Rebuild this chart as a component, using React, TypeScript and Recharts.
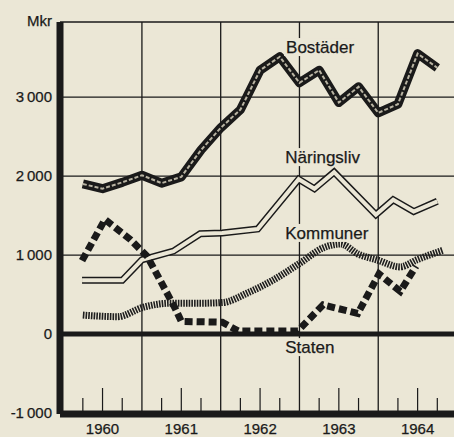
import React from 'react';
import { LineChart, Line, XAxis, YAxis, ReferenceLine, ReferenceDot } from 'recharts';

const BG = '#ebe7d6';
const INK = '#1a1a1a';
const FONT = '"Liberation Sans", Arial, Helvetica, sans-serif';

// Bostäder (housing), Mkr, quarterly
const bostaderX = [1960.25, 1960.5, 1960.75, 1961.0, 1961.25, 1961.5, 1961.75, 1962.0, 1962.25, 1962.5, 1962.75, 1963.0, 1963.25, 1963.5, 1963.75, 1964.0, 1964.25, 1964.5, 1964.75];
const bostaderY = [1900, 1840, 1920, 2010, 1910, 1990, 2330, 2610, 2840, 3340, 3510, 3180, 3340, 2930, 3130, 2800, 2910, 3550, 3370];

// Näringsliv (business)
const naringslivX = [1960.24, 1960.75, 1961.0, 1961.4, 1961.74, 1962.02, 1962.47, 1962.99, 1963.19, 1963.44, 1963.97, 1964.19, 1964.45, 1964.75];
const naringslivY = [680, 680, 940, 1050, 1270, 1280, 1330, 1960, 1840, 2050, 1510, 1700, 1550, 1680];

// Kommuner (municipalities)
const kommunerX = [1960.25, 1960.69, 1961.02, 1961.36, 1961.74, 1962.03, 1962.34, 1962.66, 1963.01, 1963.3, 1963.52, 1963.75, 1963.98, 1964.28, 1964.49, 1964.82];
const kommunerY = [240, 220, 340, 390, 390, 400, 520, 680, 900, 1090, 1140, 1010, 940, 850, 940, 1060];

// Staten (state)
const statenX = [1960.24, 1960.53, 1960.85, 1961.07, 1961.42, 1961.5, 1962.02, 1962.22, 1962.98, 1963.3, 1963.74, 1964.01, 1964.28, 1964.48];
const statenY = [930, 1450, 1200, 980, 330, 160, 150, 40, 40, 370, 260, 760, 540, 860];

const yTicks = [-1000, 0, 1000, 2000, 3000];
const yTickLabels = ['-1\u2009000', '0', '1\u2009000', '2\u2009000', '3\u2009000'];
const xTicks = [1960.25, 1960.5, 1960.75, 1961.25, 1961.5, 1961.75, 1962.25, 1962.5, 1962.75, 1963.25, 1963.5, 1963.75, 1964.25, 1964.5, 1964.75];
const gridYears = [1961, 1962, 1963, 1964];
const gridValues = [1000, 2000, 3000];
const X_MIN = 1959.96;
const X_MAX = 1965;
const Y_MIN = -1012;
const Y_MAX = 3950;
const unitLabel = 'Mkr';

const seriesLabels = [
  { name: 'Bostäder', x: 1962.83, y: 3633, w: 72 },
  { name: 'Näringsliv', x: 1962.82, y: 2240, w: 82 },
  { name: 'Kommuner', x: 1962.82, y: 1280, w: 90 },
  { name: 'Staten', x: 1962.82, y: -165, w: 54 },
];

const toData = (xs: number[], ys: number[]) => xs.map((x, i) => ({ x, y: ys[i] }));
const bostaderData = toData(bostaderX, bostaderY);
const naringslivData = toData(naringslivX, naringslivY);
const kommunerData = toData(kommunerX, kommunerY);
const statenData = toData(statenX, statenY);

const YTick = (props: any) => {
  const { y, payload } = props;
  const idx = yTicks.indexOf(payload.value);
  return (
    <text x={52} y={y} dy="0.36em" textAnchor="end" fontSize={15} fontFamily={FONT} fill={INK} stroke={INK} strokeWidth={0.25}>
      {idx >= 0 ? yTickLabels[idx] : payload.value}
    </text>
  );
};

const XTick = (props: any) => {
  const { x, y, payload } = props;
  const v = payload.value as number;
  const isMid = Math.abs(v - Math.floor(v) - 0.5) < 0.01;
  return (
    <g>
      <line x1={x} x2={x} y1={y - 2} y2={y - (isMid ? 26 : 16)} stroke={INK} strokeWidth={1.2} />
      {isMid && (
        <text x={x} y={y + 20} textAnchor="middle" fontSize={15} fontFamily={FONT} fill={INK} stroke={INK} strokeWidth={0.25}>
          {Math.floor(v)}
        </text>
      )}
    </g>
  );
};

export default function App() {
  return (
    <div style={{ position: 'absolute', left: 0, top: 0, width: 454, height: 437, overflow: 'hidden', background: BG }}>
      <LineChart width={460} height={437} margin={{ top: 22, right: 3, bottom: 0, left: 0 }}>
        <XAxis
          type="number"
          dataKey="x"
          domain={[X_MIN, X_MAX]}
          allowDataOverflow
          ticks={xTicks}
          interval={0}
          height={23}
          tickSize={0}
          tickMargin={0}
          tickLine={false}
          axisLine={{ stroke: INK, strokeWidth: 7 }}
          tick={<XTick />}
        />
        <YAxis
          type="number"
          domain={[Y_MIN, Y_MAX]}
          allowDataOverflow
          ticks={yTicks}
          interval={0}
          width={60}
          tickLine={false}
          axisLine={{ stroke: INK, strokeWidth: 7 }}
          tick={<YTick />}
        />
        {gridValues.map((v) => (
          <ReferenceLine key={'h' + v} y={v} stroke={INK} strokeWidth={1.3} />
        ))}
        <ReferenceLine y={Y_MAX} stroke={INK} strokeWidth={1.3} />
        {gridYears.map((v) => (
          <ReferenceLine key={'v' + v} x={v} stroke={INK} strokeWidth={1.3} />
        ))}
        <ReferenceLine y={0} stroke={INK} strokeWidth={5} />
        {seriesLabels.map((l) => (
          <ReferenceDot
            key={l.name}
            x={l.x}
            y={l.y}
            r={0}
            ifOverflow="visible"
            shape={(p: any) => (
              <g>
                <rect x={p.cx - 2} y={p.cy - 9} width={l.w} height={18} fill={BG} />
                <text x={p.cx} y={p.cy} dy="0.36em" fontSize={17} fontFamily={FONT} fill={INK} stroke={INK} strokeWidth={0.25}>
                  {l.name}
                </text>
              </g>
            )}
          />
        ))}
        <ReferenceDot
          x={X_MIN}
          y={Y_MAX}
          r={0}
          ifOverflow="visible"
          shape={(p: any) => (
            <text x={p.cx - 8} y={p.cy - 1} dy="0.36em" textAnchor="end" fontSize={15} fontFamily={FONT} fill={INK} stroke={INK} strokeWidth={0.25}>
              {unitLabel}
            </text>
          )}
        />
        <Line data={kommunerData} dataKey="y" name="Kommuner" type="monotone" stroke="#1e1e1e" strokeWidth={7} strokeDasharray="1.6 1.1" dot={false} isAnimationActive={false} />
        <Line data={naringslivData} dataKey="y" name="Näringsliv" type="linear" stroke={INK} strokeWidth={7} dot={false} isAnimationActive={false} />
        <Line data={naringslivData} dataKey="y" name="Näringsliv-inner" type="linear" stroke={BG} strokeWidth={4} dot={false} isAnimationActive={false} />
        <Line data={statenData} dataKey="y" name="Staten" type="linear" stroke={INK} strokeWidth={7} strokeDasharray="8 4" dot={false} isAnimationActive={false} />
        <Line data={bostaderData} dataKey="y" name="Bostäder" type="linear" stroke={INK} strokeWidth={9} strokeLinejoin="round" dot={false} isAnimationActive={false} />
        <Line data={bostaderData} dataKey="y" name="Bostäder-inner" type="linear" stroke="#b9b4a3" strokeWidth={2} strokeDasharray="4 2" dot={false} isAnimationActive={false} />
      </LineChart>
    </div>
  );
}
